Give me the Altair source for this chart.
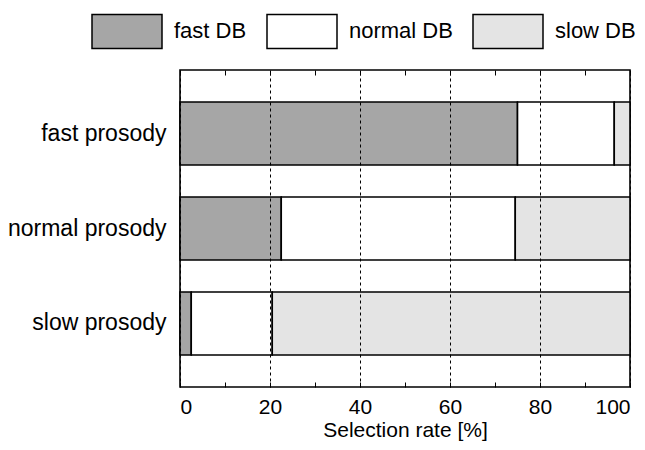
import altair as alt
import pandas as pd

# ---- data ----
prosody = ["fast prosody", "normal prosody", "slow prosody"]
db_types = ["fast DB", "normal DB", "slow DB"]
fast_db = [75.0, 22.5, 2.5]
normal_db = [21.5, 52.0, 18.0]
slow_db = [3.5, 25.5, 79.5]
x_ticks = [0, 20, 40, 60, 80, 100]
small_ticks = [0, 10, 20, 30, 40, 50, 60, 70, 80, 90, 100]

rows = []
for i, p in enumerate(prosody):
    for j, (db, vals) in enumerate(zip(db_types, [fast_db, normal_db, slow_db])):
        rows.append({"prosody": p, "db": db, "rate": vals[i], "order": j})
df = pd.DataFrame(rows)

FONT = "Liberation Sans"
FS = 23
colors = ["#a6a6a6", "#ffffff", "#e4e4e4"]

x_scale = alt.Scale(domain=[0, 100], nice=False, zero=True)
y_scale = alt.Scale(domain=prosody, paddingInner=0.337, paddingOuter=0.337)

bars = alt.Chart(df).mark_bar(stroke="black", strokeWidth=1.6, opacity=1).encode(
    x=alt.X(
        "rate:Q",
        stack="zero",
        scale=x_scale,
        axis=alt.Axis(
            orient="bottom",
            values=x_ticks,
            grid=True,
            gridColor="black",
            gridDash=[3, 3],
            gridWidth=1,
            gridOpacity=1,
            zindex=1,
            ticks=False,
            domain=False,
            labelFontSize=21,
            labelColor="black",
            labelPadding=9,
            labelFont=FONT,
            title="Selection rate [%]",
            titleFontSize=21,
            titleFontWeight="normal",
            titleColor="black",
            titleFont=FONT,
            titlePadding=2,
        ),
    ),
    y=alt.Y(
        "prosody:N",
        scale=y_scale,
        sort=prosody,
        axis=alt.Axis(
            title=None,
            ticks=False,
            domain=False,
            labelFontSize=FS,
            labelColor="black",
            labelFont=FONT,
            labelPadding=14,
        ),
    ),
    color=alt.Color(
        "db:N",
        scale=alt.Scale(domain=db_types, range=colors),
        legend=alt.Legend(
            title=None,
            orient="none",
            direction="horizontal",
            legendX=-89,
            legendY=-75,
            padding=0,
            symbolType="M-1,-0.486H1V0.486H-1Z",
            symbolSize=4900,
            symbolStrokeColor="black",
            symbolStrokeWidth=1.5,
            symbolOpacity=1,
            labelFontSize=22,
            labelColor="black",
            labelFont=FONT,
            labelOffset=11,
            columnPadding=17,
        ),
    ),
    order=alt.Order("order:Q"),
)

ticks_bottom = alt.Chart(df).mark_point(opacity=0).encode(
    x=alt.X(
        "rate:Q",
        scale=x_scale,
        axis=alt.Axis(
            orient="bottom",
            values=small_ticks,
            offset=-5,
            tickSize=5,
            tickColor="black",
            tickWidth=1,
            labels=False,
            domain=False,
            grid=False,
            title=None,
        ),
    ),
)

ticks_top = alt.Chart(df).mark_point(opacity=0).encode(
    x=alt.X(
        "rate:Q",
        scale=x_scale,
        axis=alt.Axis(
            orient="top",
            values=small_ticks,
            offset=-5,
            tickSize=5,
            tickColor="black",
            tickWidth=1,
            labels=False,
            domain=False,
            grid=False,
            title=None,
        ),
    ),
)

chart = (
    alt.layer(bars, ticks_bottom, ticks_top)
    .resolve_scale(x="shared")
    .resolve_axis(x="independent")
    .properties(
        width=450,
        height=317,
        autosize=alt.AutoSizeParams(type="none"),
        padding={"left": 172, "top": 62, "right": 7, "bottom": 55},
    )
    .configure(font=FONT)
    .configure_view(stroke="black", strokeWidth=1.6)
)

chart.save("out.html", embed_options={"renderer": "svg", "actions": False})
